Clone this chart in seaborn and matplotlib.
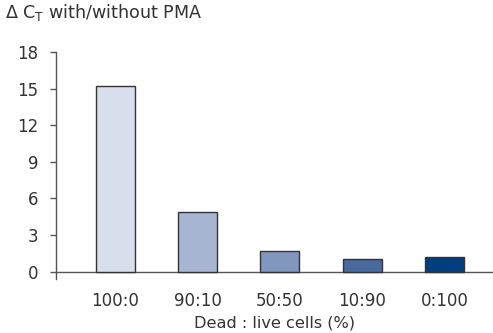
import matplotlib
matplotlib.use("Agg")
import matplotlib.pyplot as plt
import seaborn as sns
import pandas as pd

categories = ["100:0", "90:10", "50:50", "10:90", "0:100"]
values = [15.2, 4.86, 1.72, 1.05, 1.23]
bar_colors = ["#d8deec", "#a7b5d3", "#8197bf", "#496a9f", "#003e7e"]
y_ticks = [0, 3, 6, 9, 12, 15, 18]
title_text = r"Δ C$_\mathrm{T}$ with/without PMA"
x_label = "Dead : live cells (%)"

sns.set_theme(style="white")
plt.rcParams["font.family"] = ["DejaVu Sans"]
plt.rcParams["mathtext.fontset"] = "dejavusans"

text_color = "#333333"
line_color = "#555555"

df = pd.DataFrame({"cat": categories, "val": values})

fig = plt.figure(figsize=(4.93, 3.33), dpi=100)
ax = fig.add_axes([0.113, 0.162, 0.887, 0.682])

sns.barplot(data=df, x="cat", y="val", hue="cat", palette=bar_colors,
            order=categories, hue_order=categories, width=0.474,
            edgecolor="#333333", linewidth=1.0, legend=False, ax=ax, saturation=1)

ax.set_xlim(-0.727, 4.59)
ax.set_ylim(-0.6, 18)
ax.set_yticks(y_ticks)
ax.axhline(0, color=line_color, lw=1.0, zorder=0.5)

for s in ["top", "right", "bottom"]:
    ax.spines[s].set_visible(False)
ax.spines["left"].set_color(line_color)
ax.spines["left"].set_linewidth(1.0)

ax.tick_params(axis="y", direction="out", length=4.5, width=1.0, color=line_color,
               labelsize=12, labelcolor=text_color, pad=8, left=True)
ax.tick_params(axis="x", length=0, labelsize=12, labelcolor=text_color, pad=9)
ax.set_xlabel(x_label, fontsize=11.6, color=text_color, labelpad=4.5)
ax.set_ylabel("")

fig.text(0.01, 0.962, title_text, fontsize=12.6, color=text_color,
         ha="left", va="center")

fig.savefig("out.png", dpi=100)
